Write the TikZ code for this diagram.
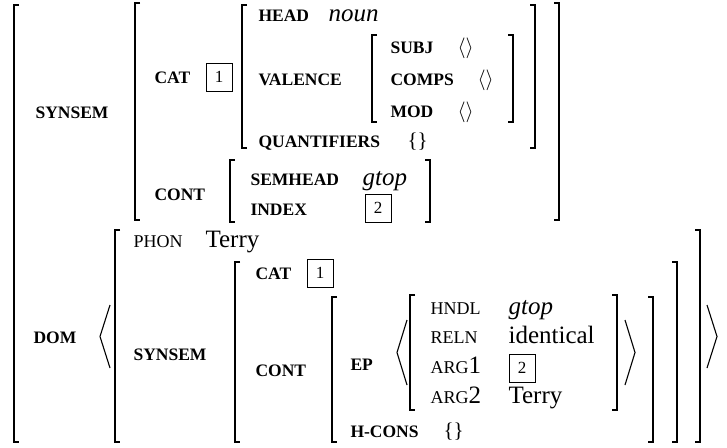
\documentclass[tikz,border=0pt]{standalone}
\usepackage{fontspec}
\setmainfont{Liberation Serif}
\usepackage{tikz}
\usetikzlibrary{calc}

\newcommand{\avmlb}[3]{\draw (#1+5,#2) -- (#1,#2) -- (#1,#3) -- (#1+5,#3);}
\newcommand{\avmrb}[3]{\draw (#1-5,#2) -- (#1,#2) -- (#1,#3) -- (#1-5,#3);}
\newcommand{\avmla}[3]{\draw (#1+10,#2) -- (#1,{(#2+#3)/2}) -- (#1+10,#3);}
\newcommand{\avmra}[3]{\draw (#1-10,#2) -- (#1,{(#2+#3)/2}) -- (#1-10,#3);}

\begin{document}
\begin{tikzpicture}[x=1pt,y=-1pt,line width=1.1pt,
feat/.style={anchor=base west,inner sep=0pt,font=\fontsize{17.5}{17.5}\selectfont\bfseries},
sfeat/.style={anchor=base west,inner sep=0pt,font=\fontsize{18}{18}\selectfont},
val/.style={anchor=base west,inner sep=0pt,font=\fontsize{25}{25}\selectfont},
emp/.style={anchor=base west,inner sep=0pt,font=\fontsize{21}{21}\selectfont},
tag/.style={draw,line width=0.7pt,minimum width=26pt,minimum height=28pt,inner sep=0pt,font=\fontsize{17}{17}\selectfont}]
\useasboundingbox (0,0) rectangle (727,447);
\avmlb{14}{5}{442}
\node[feat] (synsem) at (35,118) {SYNSEM};
\avmlb{135}{3}{220}
\node[feat] (cat) at (154,83) {CAT};
\node[tag] (tagone) at (219,77) {1};
\avmlb{242}{5}{148}
\node[feat] (head) at (258,21) {HEAD};
\node[val] (noun) at (328,21) {\itshape noun};
\node[feat] (valence) at (258,85) {VALENCE};
\avmlb{372}{35}{122}
\node[feat] (subj) at (390,53) {SUBJ};
\node[emp] (subjv) at (457,53) {$\langle\rangle$};
\node[feat] (comps) at (390,85) {COMPS};
\node[emp] (compsv) at (477,85) {$\langle\rangle$};
\node[feat] (mod) at (390,117) {MOD};
\node[emp] (modv) at (457,117) {$\langle\rangle$};
\avmrb{513}{35}{122}
\node[feat] (quant) at (258,147) {QUANTIFIERS};
\node[emp] (quantv) at (407,147) {\{\}};
\avmrb{535}{5}{148}
\node[feat] (cont) at (154,200) {CONT};
\avmlb{230}{160}{222}
\node[feat] (semhead) at (250,185) {SEMHEAD};
\node[val] (gtop) at (362,185) {\itshape gtop};
\node[feat] (index) at (250,215) {INDEX};
\node[tag] (tagtwo) at (378,208) {2};
\avmrb{430}{160}{222}
\avmrb{559}{3}{220}
\node[feat] (dom) at (33,343) {DOM};
\avmla{100}{305}{368}
\avmlb{115}{230}{442}
\node[sfeat] (phon) at (133,247) {PHON};
\node[val] (terry) at (205,247) {Terry};
\node[feat] (synsemb) at (133,360) {SYNSEM};
\avmlb{235}{262}{442}
\node[feat] (catb) at (255,279) {CAT};
\node[tag] (tagoneb) at (320,273) {1};
\node[feat] (contb) at (255,376) {CONT};
\avmlb{332}{297}{442}
\node[feat] (ep) at (350,370) {EP};
\avmla{397}{320}{385}
\avmlb{410}{295}{410}
\node[sfeat] (hndl) at (430,314) {HNDL};
\node[val] (gtopb) at (508,314) {\itshape gtop};
\node[sfeat] (reln) at (430,343) {RELN};
\node[val] (ident) at (508,343) {identical};
\node[sfeat] (argone) at (430,373) {ARG{\fontsize{25}{25}\selectfont 1}};
\node[tag] (tagtwob) at (522,368) {2};
\node[sfeat] (argtwo) at (430,403) {ARG{\fontsize{25}{25}\selectfont 2}};
\node[val] (terryb) at (508,403) {Terry};
\avmrb{617}{295}{410}
\avmra{635}{320}{385}
\node[feat] (hcons) at (350,437) {H-CONS};
\node[emp] (hconsv) at (443,437) {\{\}};
\avmrb{653}{297}{442}
\avmrb{677}{262}{442}
\avmrb{700}{230}{442}
\avmra{717}{305}{368}
\end{tikzpicture}
\end{document}
